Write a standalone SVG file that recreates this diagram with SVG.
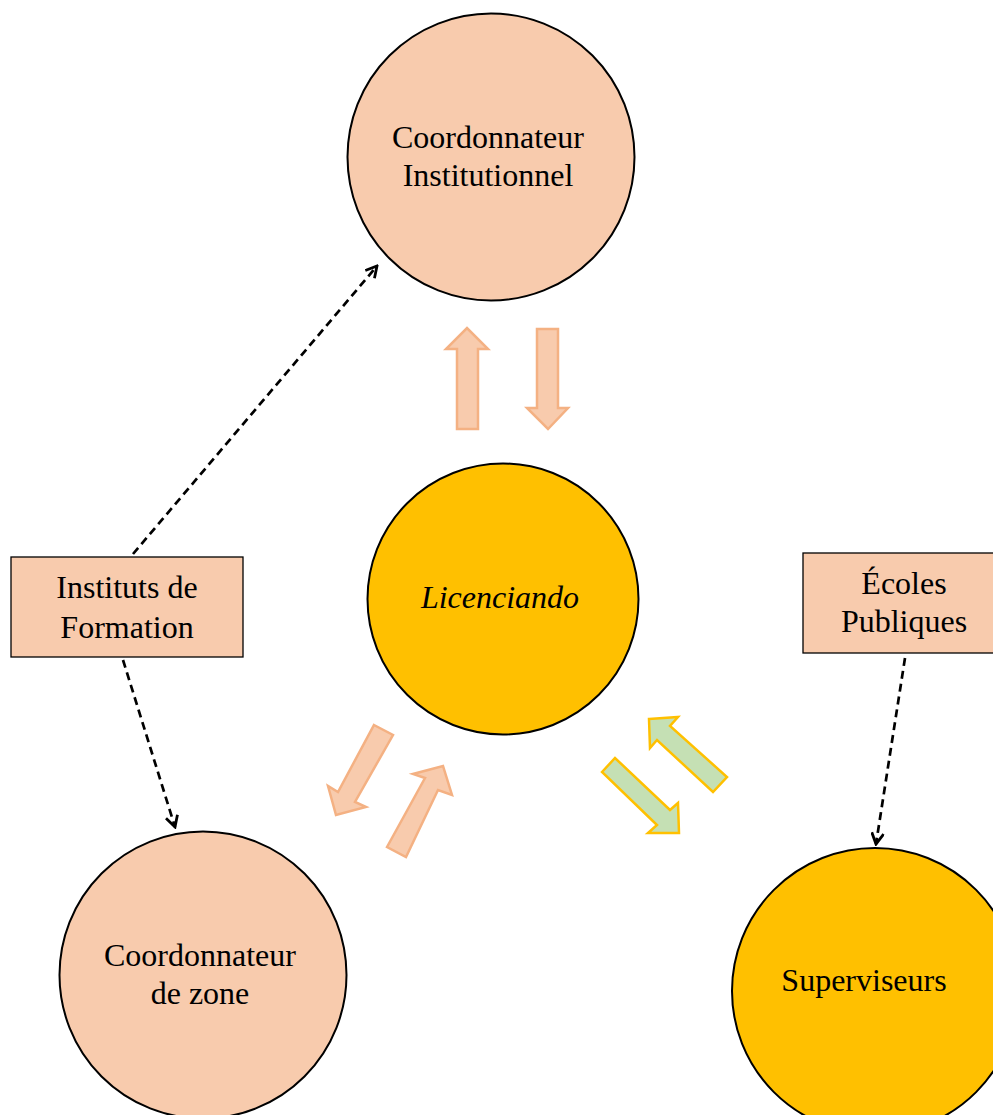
<svg xmlns="http://www.w3.org/2000/svg" width="993" height="1115" viewBox="0 0 993 1115">
<defs>
<style>
.peach{fill:#F8CBAD;stroke:#000;stroke-width:2}
.gold{fill:#FFC000;stroke:#000;stroke-width:2}
.box{fill:#F8CBAD;stroke:#000;stroke-width:1.3}
.t{font-family:"Liberation Serif","Times New Roman",serif;font-size:32px;fill:#000;text-anchor:middle}
.pa{fill:#F8CBAD;stroke:#F4B183;stroke-width:2.5;stroke-linejoin:miter}
.ga{fill:#C5E0B4;stroke:#FFC000;stroke-width:2.5;stroke-linejoin:miter}
.dash{fill:none;stroke:#000;stroke-width:2.7;stroke-dasharray:8,5}
</style>
<marker id="open" viewBox="0 0 14 14" refX="12" refY="7" markerWidth="14" markerHeight="14" markerUnits="userSpaceOnUse" orient="auto">
<path d="M1,1 L12,7 L1,13" fill="none" stroke="#000" stroke-width="2.8"/>
</marker>
</defs>
<rect width="993" height="1115" fill="#fff"/>
<g id="connectors">
<line class="dash" x1="133" y1="554" x2="377" y2="266" marker-end="url(#open)"/>
<line class="dash" x1="123" y1="660" x2="175" y2="827" marker-end="url(#open)"/>
<line class="dash" x1="905" y1="658" x2="876" y2="844" marker-end="url(#open)"/>
<polygon class="pa" points="457,429 457,349 446,349 467,328 488,349 478,349 478,429"/>
<polygon class="pa" points="537,329 558,329 558,408 568,408 548,429 527,408 537,408"/>
<polygon class="pa" points="374,725 393,735 355,802 366,807 336,815 328,786 338,792"/>
<polygon class="pa" points="387,847 425,778 413,774 443,766 452,795 438,790 406,857"/>
<polygon class="ga" points="649,719 678,717 670,726 727,777 713,792 657,740 650,748"/>
<polygon class="ga" points="602,772 615,758 670,810 678,803 679,833 648,833 657,825"/>
</g>
<g id="coord-inst">
<circle class="peach" cx="491" cy="157" r="143.5"/>
<text class="t" x="488" y="148">Coordonnateur</text>
<text class="t" x="488" y="186">Institutionnel</text>
</g>
<g id="licenciando">
<circle class="gold" cx="503" cy="599" r="135.5"/>
<text class="t" x="500" y="608" font-style="italic">Licenciando</text>
</g>
<g id="coord-zone">
<circle class="peach" cx="203" cy="975" r="143.5"/>
<text class="t" x="200" y="966">Coordonnateur</text>
<text class="t" x="200" y="1004">de zone</text>
</g>
<g id="superviseurs">
<circle class="gold" cx="875" cy="991" r="143"/>
<text class="t" x="864" y="991">Superviseurs</text>
</g>
<g id="instituts">
<rect class="box" x="11" y="557" width="232" height="100"/>
<text class="t" x="127" y="598">Instituts de</text>
<text class="t" x="127" y="638">Formation</text>
</g>
<g id="ecoles">
<rect class="box" x="803" y="553" width="200" height="100"/>
<text class="t" x="904" y="594">Écoles</text>
<text class="t" x="904" y="632">Publiques</text>
</g>
</svg>
